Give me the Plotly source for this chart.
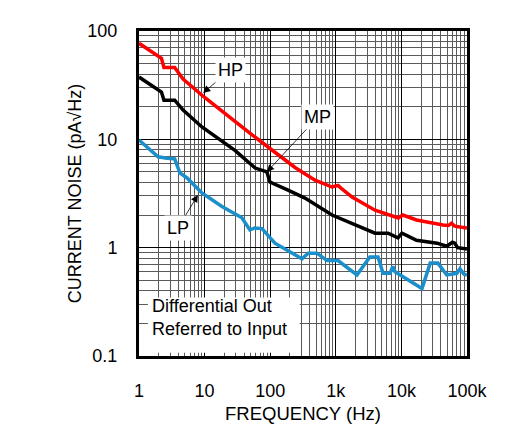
import math
import plotly.graph_objects as go

# current noise vs frequency
hp_freq = [1, 2.2, 2.4, 3.5, 4.7, 9.8, 49, 59, 118, 239, 482, 875, 1080, 1200, 1770,
           3960, 7980, 9000, 10500, 17000, 43000, 52000, 58000, 65000, 78000, 100000]
hp_noise = [77, 56, 46, 46, 36, 24.6, 11.4, 10.5, 7.6, 5.5, 4.2, 3.63, 3.75, 3.55, 2.93,
            2.22, 1.92, 1.88, 2.0, 1.8, 1.62, 1.6, 1.68, 1.58, 1.55, 1.52]

mp_freq = [1, 2.2, 2.4, 3.5, 4.7, 9.1, 29, 59, 89, 99, 187, 339, 875, 1960, 3960, 6250,
           8880, 10200, 17000, 35000, 49000, 60000, 65000, 72000, 100000]
mp_noise = [37.6, 27.3, 23, 23, 18.6, 13.0, 7.9, 5.43, 5.0, 4.04, 3.4, 2.87, 2.0, 1.62,
            1.36, 1.36, 1.23, 1.36, 1.17, 1.1, 1.03, 1.12, 1.1, 1.0, 0.97]

lp_freq = [1, 1.95, 2.67, 3.5, 4.2, 5.4, 9.1, 18.4, 37, 49, 58, 75, 118, 305, 380, 515,
           735, 1080, 2100, 3300, 4400, 5250, 6700, 7400, 8000, 20600, 27500, 36000,
           49000, 70000, 78000, 90000, 100000]
lp_noise = [9.85, 6.9, 6.7, 6.6, 4.9, 4.4, 3.2, 2.4, 1.89, 1.46, 1.52, 1.5, 1.1, 0.79,
            0.89, 0.89, 0.76, 0.76, 0.56, 0.82, 0.82, 0.58, 0.58, 0.67, 0.6, 0.42, 0.72,
            0.72, 0.56, 0.58, 0.64, 0.57, 0.56]

x_ticks = [1, 10, 100, 1000, 10000, 100000]
x_labels = ["1", "10", "100", "1k", "10k", "100k"]
y_ticks = [0.1, 1, 10, 100]
y_labels = ["0.1", "1", "10", "100"]

FONT = "Liberation Sans, Arial, sans-serif"

fig = go.Figure()
fig.add_trace(go.Scatter(x=hp_freq, y=hp_noise, mode="lines", name="HP",
                         line=dict(color="#ff0000", width=3.5)))
fig.add_trace(go.Scatter(x=mp_freq, y=mp_noise, mode="lines", name="MP",
                         line=dict(color="#000000", width=3.5)))
fig.add_trace(go.Scatter(x=lp_freq, y=lp_noise, mode="lines", name="LP",
                         line=dict(color="#1b8fcc", width=3.5)))

# labels with arrows pointing at the curves (log axes -> log10 coords)
for txt, fx, fy, ax, ay in [("HP", 9.5, 26.8, 27, -23),
                            ("MP", 89, 5.0, 51, -55),
                            ("LP", 7.9, 3.06, -20, 33)]:
    fig.add_annotation(x=math.log10(fx), y=math.log10(fy), xref="x", yref="y",
                       text=txt, showarrow=True, ax=ax, ay=ay,
                       arrowhead=2, arrowsize=1.8, arrowwidth=0.8, arrowcolor="black",
                       bgcolor="white", borderpad=2,
                       font=dict(family=FONT, size=18, color="black"))

# white box behind the note in the lower left
fig.add_shape(type="rect", xref="x domain", yref="y domain",
              x0=0.027, x1=0.49, y0=0.01, y1=0.18,
              fillcolor="white", line_width=0, layer="above")
fig.add_annotation(xref="x domain", yref="y domain", x=0.035, y=0.045,
                   text="Differential Out<br>Referred to Input", showarrow=False,
                   xanchor="left", align="left",
                   font=dict(family=FONT, size=18, color="black"))

fig.update_xaxes(type="log", range=[0, 5],
                 tickvals=x_ticks, ticktext=x_labels, ticks="",
                 ticklabelstandoff=16,
                 showgrid=True, gridcolor="black", gridwidth=1,
                 minor=dict(showgrid=True, gridcolor="#5a5a5a", gridwidth=1,
                            dtick="D1"),
                 showline=True, linecolor="black", linewidth=3, mirror=True,
                 tickfont=dict(family=FONT, size=18, color="black"),
                 title=dict(text="FREQUENCY (Hz)", standoff=8,
                            font=dict(family=FONT, size=18.5, color="black")))
fig.update_yaxes(type="log", range=[-1, 2],
                 tickvals=y_ticks, ticktext=y_labels, ticks="",
                 ticklabelstandoff=15,
                 showgrid=True, gridcolor="black", gridwidth=1,
                 minor=dict(showgrid=True, gridcolor="#5a5a5a", gridwidth=1,
                            dtick="D1"),
                 showline=True, linecolor="black", linewidth=3, mirror=True,
                 tickfont=dict(family=FONT, size=18, color="black"),
                 title=dict(text="CURRENT NOISE (pA√Hz)", standoff=2,
                            font=dict(family=FONT, size=18, color="black")))

# page has an 8px body margin, so shift the figure up/left by that much
fig.update_layout(width=521, height=436,
                  margin=dict(l=131, r=62, t=23, b=88),
                  paper_bgcolor="white", plot_bgcolor="white",
                  showlegend=False)

fig.write_html("out.html")
